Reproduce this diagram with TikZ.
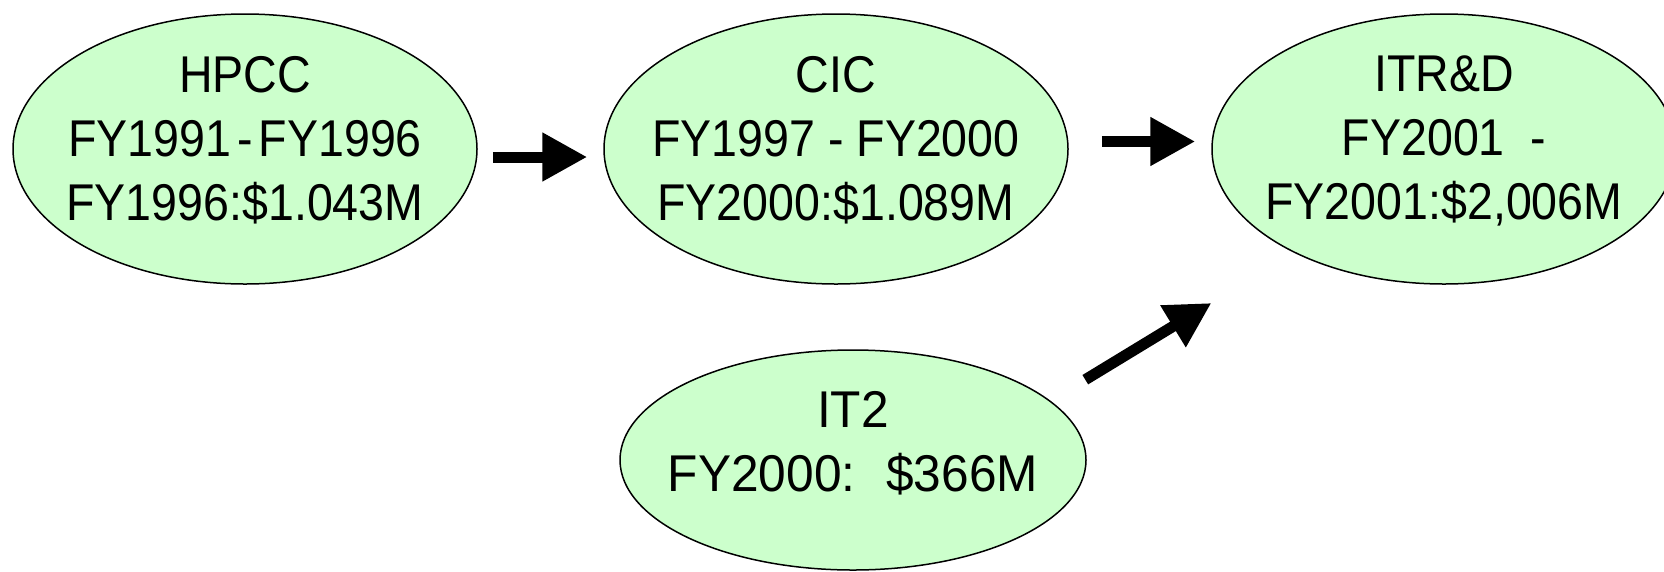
\documentclass[tikz,border=0pt]{standalone}
\usepackage{fontspec}
\setmainfont[FakeStretch=0.9]{Liberation Sans}
\newfontfamily\widefont[FakeStretch=0.96]{Liberation Sans}
\usetikzlibrary{shapes.geometric,arrows.meta}
\definecolor{blobfill}{HTML}{CCFFCC}
\begin{document}
\begin{tikzpicture}[x=1pt,y=-1pt,
  blob/.style={ellipse, draw=black, line width=1.5pt, fill=blobfill, minimum width=464pt, minimum height=270pt, inner sep=0pt},
  lbl/.style={align=center, anchor=north, font=\fontsize{51.7}{64}\selectfont, inner sep=0pt},
  bigarrow/.style={line width=11pt, -{Triangle[length=45pt,width=46pt]}}]
\clip (0,0) rectangle (1664,571);
\node[blob] (hpcc) at (245,149) {};
\node[blob] (cic) at (836,149) {};
\node[blob] (itrd) at (1444,149) {};
\node[blob, minimum width=466pt, minimum height=220pt] (it2) at (853,460) {};
\node[lbl] (hpcct) at (245,56) {HPCC\\FY1991\hspace{0.12em}-\hspace{0.12em}FY1996\\FY1996:\$1.043M};
\node[lbl] (cict) at (836,56) {CIC\\FY1997 - FY2000\\FY2000:\$1.089M};
\node[lbl] (itrdt) at (1444,56) {ITR\&D\\FY2001 \ -\\FY2001:\$2,006M};
\node[lbl, font=\fontsize{51.7}{64}\widefont] (it2t) at (853,391) {IT2\\FY2000:\hspace{0.6em}\$366M};
\draw[bigarrow] ([xshift=15pt,yshift=-8pt]hpcc.east) -- ([xshift=-16pt,yshift=-8pt]cic.west);
\draw[bigarrow] ([xshift=33pt,yshift=7.5pt]cic.east) -- ([xshift=-16pt,yshift=7.5pt]itrd.west);
\draw[bigarrow] ([xshift=67pt,yshift=2pt]it2.north east) -- ([xshift=-68pt,yshift=-58pt]itrd.south west);
\end{tikzpicture}
\end{document}
